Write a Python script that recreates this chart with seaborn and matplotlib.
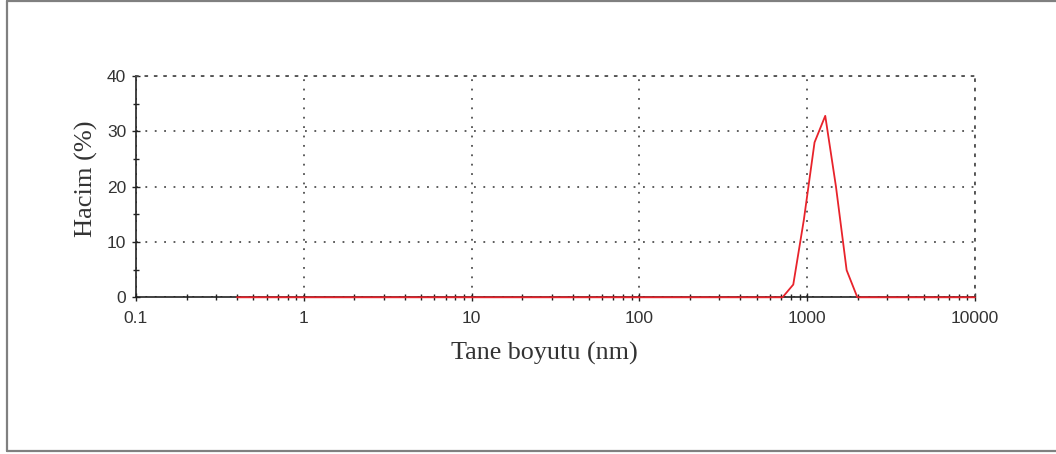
import numpy as np
import pandas as pd
import seaborn as sns
import matplotlib
matplotlib.use("Agg")
import matplotlib.pyplot as plt
from matplotlib.lines import Line2D
from matplotlib.ticker import FixedLocator, FixedFormatter, LogLocator, MultipleLocator, NullFormatter

# Volume-weighted size distribution
size_nm = [0.4, 713, 826, 955, 1106, 1281, 1484, 1718, 1990, 10000]
volume_pct = [0, 0, 2.3, 14.0, 28.0, 32.8, 20.0, 4.9, 0, 0]

x_ticks = [0.1, 1, 10, 100, 1000, 10000]
x_tick_labels = ["0.1", "1", "10", "100", "1000", "10000"]
y_ticks = [0, 10, 20, 30, 40]

df = pd.DataFrame({"size": size_nm, "volume": volume_pct})

sns.set_theme(style="white")
plt.rcParams["font.family"] = ["Liberation Sans", "DejaVu Sans"]

fig = plt.figure(figsize=(10.56, 4.54), dpi=100)
ax = fig.add_axes([136 / 1056, 1 - 297.3 / 454, (975 - 136) / 1056, (297.3 - 76) / 454])

sns.lineplot(data=df, x="size", y="volume", ax=ax, color="#e8232b",
             linewidth=1.3, clip_on=False, zorder=4)

ax.set_xscale("log")
ax.set_xlim(0.1, 10000)
ax.set_ylim(0, 40)

ax.xaxis.set_major_locator(FixedLocator(x_ticks))
ax.xaxis.set_major_formatter(FixedFormatter(x_tick_labels))
ax.xaxis.set_minor_locator(LogLocator(base=10, subs=np.arange(2, 10), numticks=20))
ax.xaxis.set_minor_formatter(NullFormatter())
ax.yaxis.set_major_locator(FixedLocator(y_ticks))
ax.yaxis.set_minor_locator(MultipleLocator(5))

dot = (0, (1, 4.2))
ax.grid(True, which="major", color="#505050", linestyle=dot, linewidth=1.3)
for side in ("left", "bottom"):
    ax.spines[side].set_color("#222222")
    ax.spines[side].set_linewidth(1.2)
for side in ("top", "right"):
    ax.spines[side].set_color("#505050")
    ax.spines[side].set_linestyle(dot)
    ax.spines[side].set_linewidth(1.3)

ax.tick_params(axis="both", which="major", direction="inout", length=6, width=1,
               color="#222222", labelsize=12.5, labelcolor="#333333")
ax.tick_params(axis="both", which="minor", direction="inout", length=5, width=1,
               color="#222222")
ax.tick_params(axis="x", which="major", pad=7)
ax.tick_params(axis="y", which="major", pad=4)
ax.tick_params(top=False, right=False, which="both")
ax.tick_params(axis="x", which="both", bottom=True)
ax.tick_params(axis="y", which="both", left=True)

serif = ["Liberation Serif", "DejaVu Serif"]
ax.set_xlabel("Tane boyutu (nm)", family=serif, fontsize=18.8, color="#333333")
ax.set_ylabel("Hacim (%)", family=serif, fontsize=19, color="#333333")
ax.xaxis.set_label_coords(0.487, -0.2)
ax.yaxis.set_label_coords(-0.045, 0.535)

# Outer frame (left, top, bottom edges)
frame_kw = dict(color="#808080", linewidth=1.6, transform=fig.transFigure)
fig.add_artist(Line2D([6.5 / 1056, 6.5 / 1056], [1 - 450.5 / 454, 1 - 0.8 / 454], **frame_kw))
fig.add_artist(Line2D([6.5 / 1056, 1.0], [1 - 0.8 / 454, 1 - 0.8 / 454], **frame_kw))
fig.add_artist(Line2D([6.5 / 1056, 1.0], [1 - 450.5 / 454, 1 - 450.5 / 454], **frame_kw))

fig.savefig("out.png", dpi=100, facecolor="white")
